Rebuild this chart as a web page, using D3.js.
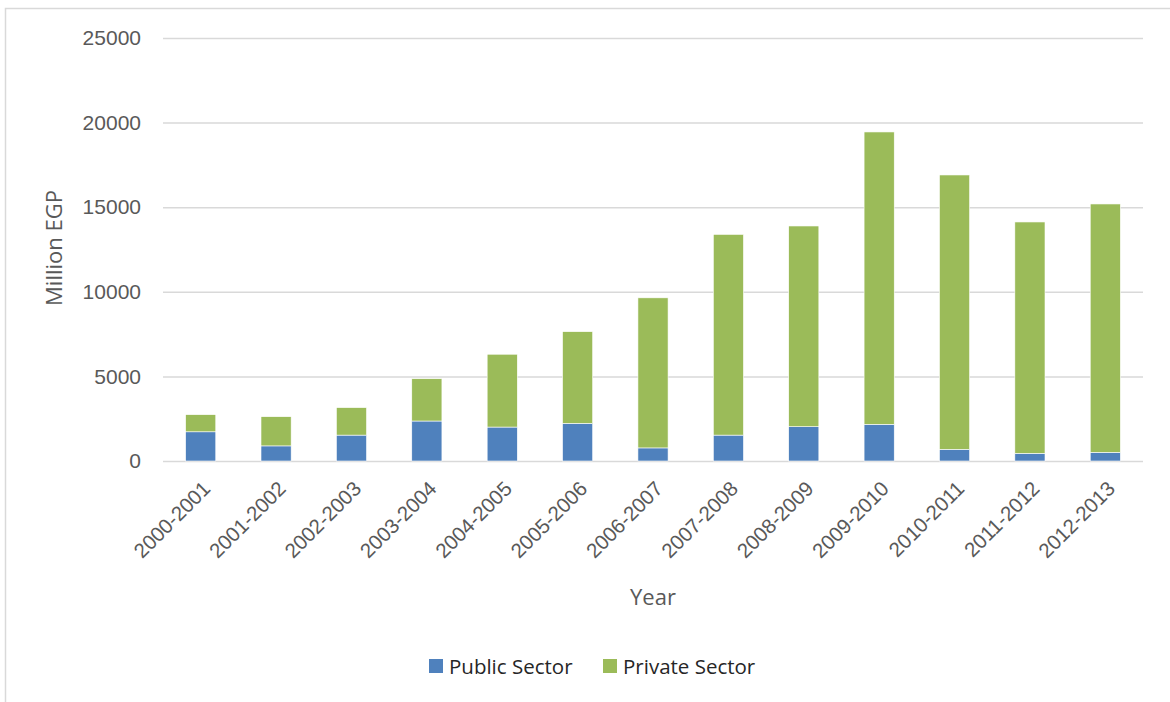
<!DOCTYPE html>
<html>
<head>
<meta charset="utf-8">
<script src="https://cdn.jsdelivr.net/npm/d3@7/dist/d3.min.js"></script>
<style>
  html, body { margin: 0; padding: 0; background: #fff; }
  svg { display: block; font-family: "Open Sans", "Liberation Sans", sans-serif; }
</style>
</head>
<body>
<svg id="chart" width="1170" height="702"></svg>
<script>
// Investments by sector, million EGP
const years = ["2000-2001","2001-2002","2002-2003","2003-2004","2004-2005","2005-2006","2006-2007",
               "2007-2008","2008-2009","2009-2010","2010-2011","2011-2012","2012-2013"];
const publicSector  = [1726, 893, 1530, 2363, 2006, 2226, 774, 1530, 2027, 2169, 690, 453, 512];
const privateSector = [1012, 1726, 1625, 2500, 4304, 5417, 8869, 11863, 11863, 17278, 16215, 13674, 14679];
const yTicks = [0, 5000, 10000, 15000, 20000, 25000];
const seriesNames = ["Public Sector", "Private Sector"];
const seriesColors = ["#4f81bd", "#9bbb59"];

const svg = d3.select("#chart");

// outer chart frame
svg.append("rect")
  .attr("x", 5.5).attr("y", 8.5)
  .attr("width", 1200).attr("height", 720)
  .attr("fill", "none").attr("stroke", "#d9d9d9").attr("stroke-width", 1.5);

const plot = { left: 163, right: 1143, top: 38, bottom: 461 };

const x = d3.scaleBand().domain(years).range([plot.left, plot.right]).paddingInner(0.6).paddingOuter(0.3);
const y = d3.scaleLinear().domain([0, 25000]).range([plot.bottom, plot.top]);

// gridlines + y tick labels
const yAxis = d3.axisLeft(y).tickValues(yTicks).tickSize(-(plot.right - plot.left)).tickPadding(22).tickFormat(d3.format("d"));
const gy = svg.append("g").attr("transform", `translate(${plot.left},0)`).call(yAxis);
gy.select(".domain").remove();
gy.selectAll(".tick line").attr("stroke", "#d9d9d9").attr("stroke-width", 1.5);
gy.selectAll(".tick text").attr("fill", "#595959").attr("font-size", 21);

// stacked bars
const rows = years.map((yr, i) => ({ year: yr, pub: publicSector[i], priv: privateSector[i] }));
const stack = d3.stack().keys(["pub", "priv"])(rows);

svg.append("g").selectAll("g").data(stack).join("g")
  .attr("fill", (d, i) => seriesColors[i])
  .selectAll("rect").data(d => d).join("rect")
  .attr("x", d => x(d.data.year))
  .attr("y", d => y(d[1]))
  .attr("width", x.bandwidth())
  .attr("height", d => y(d[0]) - y(d[1]))
  .attr("stroke", "#ffffff").attr("stroke-width", 0.6);

// x axis labels
const xAxis = d3.axisBottom(x).tickSize(0).tickPadding(0);
const gx = svg.append("g").attr("transform", `translate(0,${plot.bottom})`).call(xAxis);
gx.select(".domain").remove();
gx.selectAll(".tick text")
  .attr("fill", "#595959").attr("font-size", 20.5)
  .attr("text-anchor", "end")
  .attr("dy", 0)
  .attr("transform", "translate(11,29) rotate(-45)");

// axis titles
svg.append("text")
  .attr("transform", "translate(62,248) rotate(-90)")
  .attr("text-anchor", "middle").attr("fill", "#595959").attr("font-size", 22)
  .text("Million EGP");

svg.append("text")
  .attr("x", 653).attr("y", 605)
  .attr("text-anchor", "middle").attr("fill", "#595959").attr("font-size", 22)
  .text("Year");

// legend
const legendX = [429, 603];
const legend = svg.append("g");
seriesNames.forEach((name, i) => {
  legend.append("rect")
    .attr("x", legendX[i]).attr("y", 659).attr("width", 14).attr("height", 14)
    .attr("fill", seriesColors[i]);
  legend.append("text")
    .attr("x", legendX[i] + 20).attr("y", 674)
    .attr("fill", "#262626").attr("font-size", 20.5)
    .text(name);
});
</script>
</body>
</html>
